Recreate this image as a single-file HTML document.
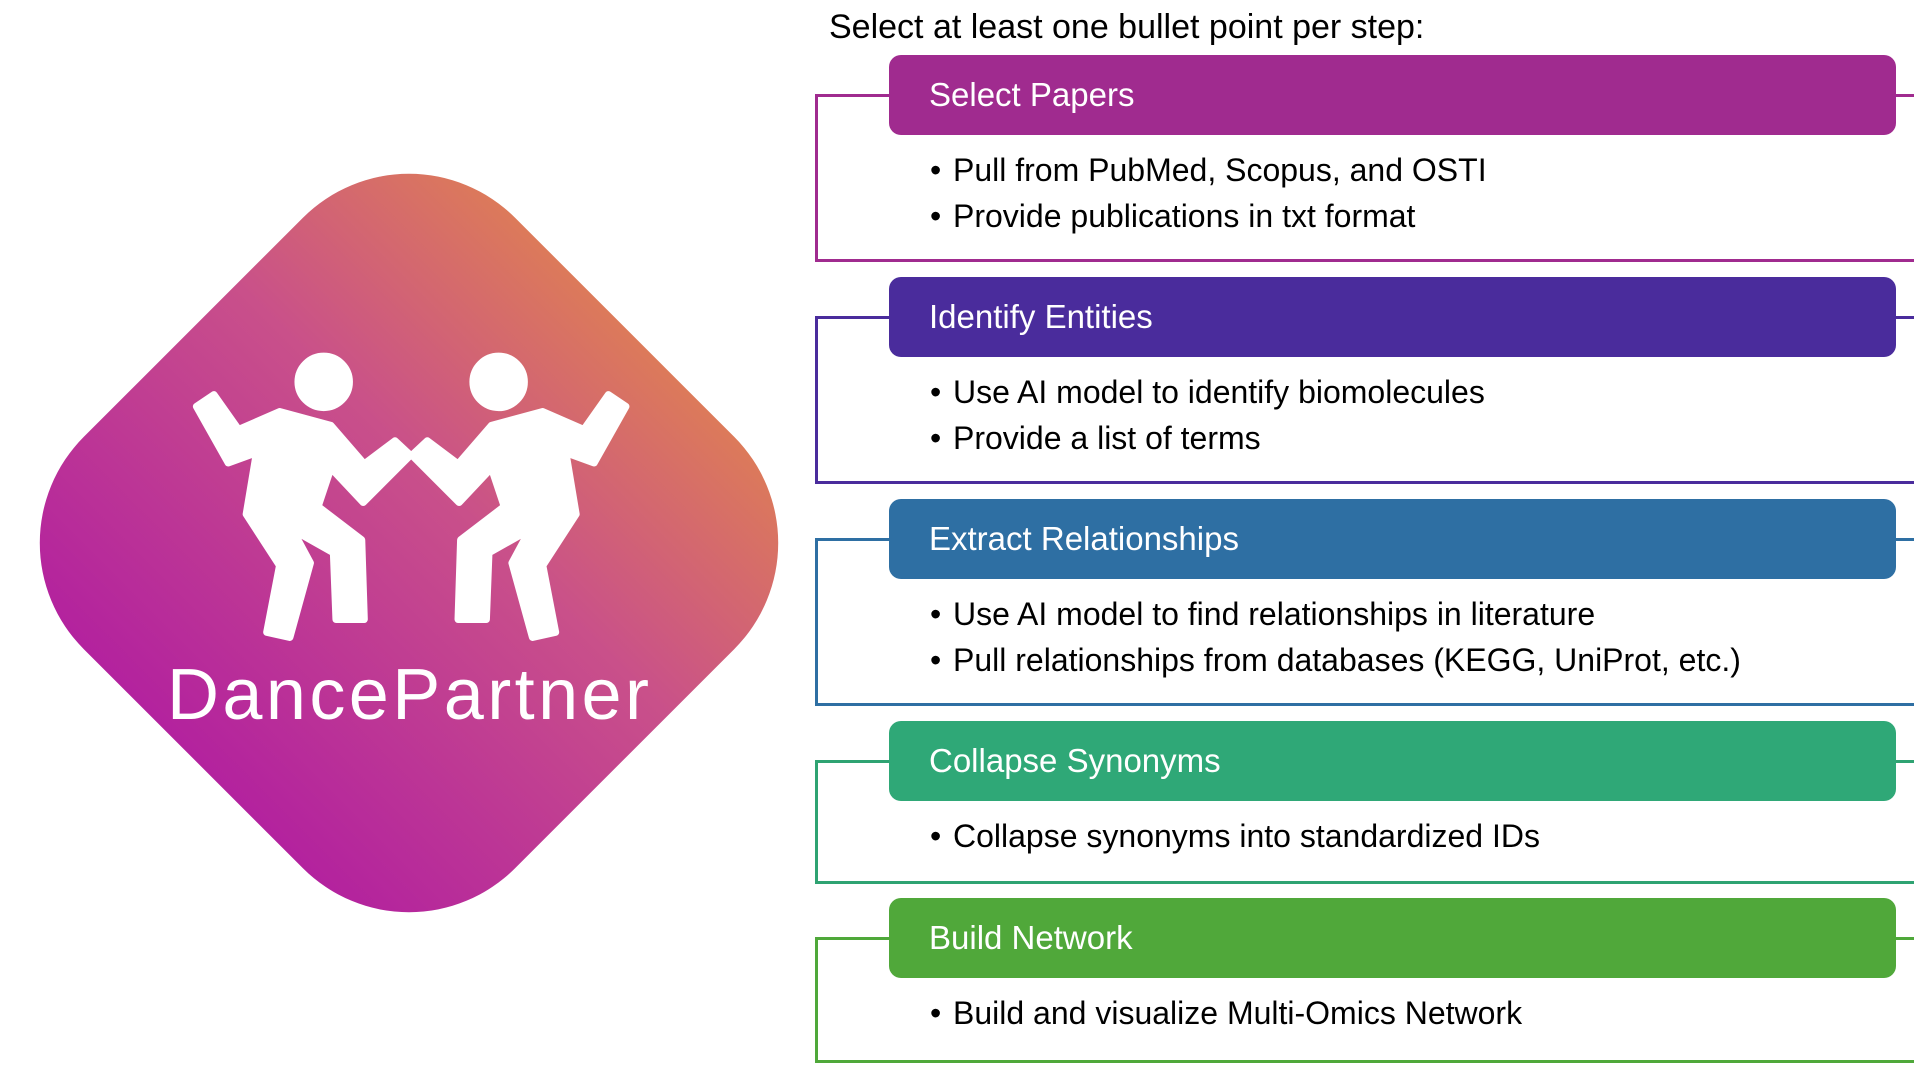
<!DOCTYPE html>
<html><head><meta charset="utf-8"><style>
body{margin:0;width:1914px;height:1076px;background:#fff;position:relative;overflow:hidden;font-family:"Liberation Sans",sans-serif;}
.t{position:absolute;left:829px;top:8px;font-size:34px;color:#000;}
.br{position:absolute;left:815px;width:1110px;border:3px solid;border-right:none;box-sizing:border-box;}
.hd{position:absolute;left:889px;width:1007px;height:80px;border-radius:12px;color:#fff;font-size:33px;line-height:80px;box-sizing:border-box;padding-left:40px;}
.b{position:absolute;left:930px;font-size:32px;color:#000;white-space:nowrap;}
.b span{display:inline-block;width:23px;}
</style></head><body>
<div class="t">Select at least one bullet point per step:</div>

<div class="br" style="top:94px;height:168px;border-color:#a02b8f"></div>
<div class="hd" style="top:55px;background:#a02b8f">Select Papers</div>
<div class="b" style="top:152px"><span>•</span>Pull from PubMed, Scopus, and OSTI</div>
<div class="b" style="top:198px"><span>•</span>Provide publications in txt format</div>

<div class="br" style="top:316px;height:168px;border-color:#4a2c9c"></div>
<div class="hd" style="top:277px;background:#4a2c9c">Identify Entities</div>
<div class="b" style="top:374px"><span>•</span>Use AI model to identify biomolecules</div>
<div class="b" style="top:420px"><span>•</span>Provide a list of terms</div>

<div class="br" style="top:538px;height:168px;border-color:#2e6fa3"></div>
<div class="hd" style="top:499px;background:#2e6fa3">Extract Relationships</div>
<div class="b" style="top:596px"><span>•</span>Use AI model to find relationships in literature</div>
<div class="b" style="top:642px"><span>•</span>Pull relationships from databases (KEGG, UniProt, etc.)</div>

<div class="br" style="top:760px;height:124px;border-color:#2fa372"></div>
<div class="hd" style="top:721px;background:#2fa877">Collapse Synonyms</div>
<div class="b" style="top:818px"><span>•</span>Collapse synonyms into standardized IDs</div>

<div class="br" style="top:937px;height:126px;border-color:#4fa83a"></div>
<div class="hd" style="top:898px;background:#50a83a">Build Network</div>
<div class="b" style="top:995px"><span>•</span>Build and visualize Multi-Omics Network</div>

<svg style="position:absolute;left:0;top:0" width="800" height="1076">
<defs><linearGradient id="g" x1="0" y1="1" x2="0" y2="0">
<stop offset="0" stop-color="#b3229e"/><stop offset="0.6" stop-color="#c9508a"/><stop offset="1" stop-color="#dc7a5a"/></linearGradient></defs>
<rect x="104" y="238" width="610" height="610" rx="150" fill="url(#g)" transform="rotate(45 409 543)"/>
<g transform="translate(0,150) scale(0.513)" fill="#fff" stroke="#fff" stroke-width="14" stroke-linejoin="round">
<circle cx="631" cy="452" r="50"/>
<polygon points="383,500 417,477 465,545 545,510 645,537 710,612 770,567 800,595 745,650 708,687 645,620 620,695 705,760 710,915 655,915 650,785 570,740 605,805 565,950 520,940 545,810 480,710 500,590 445,610"/>
<g transform="translate(1603,0) scale(-1,1)">
<circle cx="631" cy="452" r="50"/>
<polygon points="383,500 417,477 465,545 545,510 645,537 710,612 770,567 800,595 745,650 708,687 645,620 620,695 705,760 710,915 655,915 650,785 570,740 605,805 565,950 520,940 545,810 480,710 500,590 445,610"/>
</g>
</g>
<text x="408" y="719" text-anchor="middle" fill="#fff" font-family="Liberation Sans, sans-serif" font-size="72" textLength="482">DancePartner</text>
</svg>
</body></html>
